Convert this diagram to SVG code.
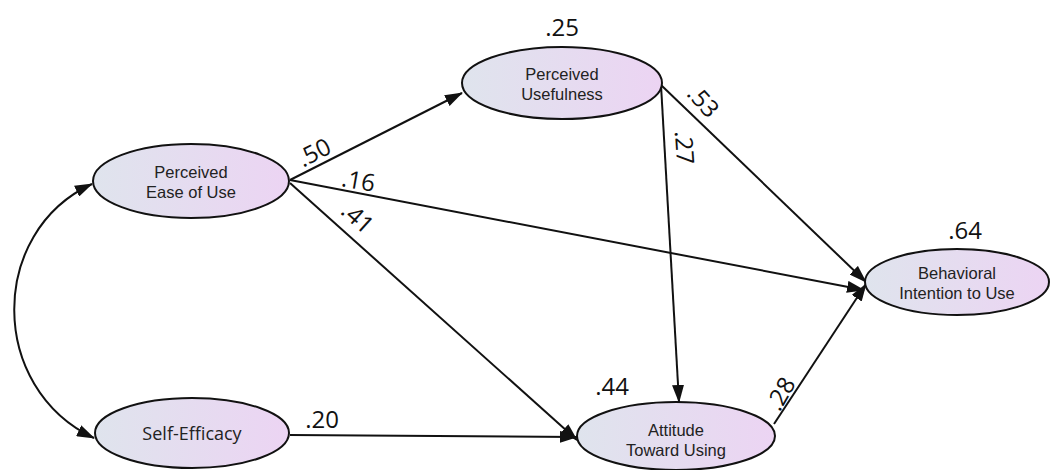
<svg xmlns="http://www.w3.org/2000/svg" width="1052" height="470" viewBox="0 0 1052 470">
<style>
.node ellipse{fill:url(#g);stroke:#111;stroke-width:2}
.lbl{font-family:"Liberation Sans",Arial,sans-serif;font-size:16.5px;fill:#222;text-anchor:middle}
.num{font-family:"Open Sans","DejaVu Sans",sans-serif;font-size:24px;fill:#111;text-anchor:middle}
.edge{stroke:#111;stroke-width:2;fill:none}
</style>
<defs>
<linearGradient id="g" x1="0" y1="0" x2="1" y2="0">
<stop offset="0" stop-color="#dfe4ed"/>
<stop offset="1" stop-color="#ecd4f3"/>
</linearGradient>
<marker id="ah" markerWidth="18" markerHeight="12" refX="17" refY="6" orient="auto" markerUnits="userSpaceOnUse">
<path d="M0,0 L18,6 L0,12 Z" fill="#111"/>
</marker>
<marker id="as" markerWidth="18" markerHeight="12" refX="1" refY="6" orient="auto" markerUnits="userSpaceOnUse">
<path d="M18,0 L0,6 L18,12 Z" fill="#111"/>
</marker>
</defs>
<rect width="1052" height="470" fill="#fff"/>
<g id="connectors">
<path class="edge" d="M92,184 C-12,232 -12,388 94,438" marker-start="url(#as)" marker-end="url(#ah)"/>
<line class="edge" x1="290" y1="180" x2="462" y2="93" marker-end="url(#ah)"/>
<line class="edge" x1="290" y1="180" x2="864" y2="290" marker-end="url(#ah)"/>
<line class="edge" x1="290" y1="183" x2="577" y2="440" marker-end="url(#ah)"/>
<line class="edge" x1="290" y1="435" x2="577" y2="437" marker-end="url(#ah)"/>
<line class="edge" x1="661" y1="85" x2="679" y2="402" marker-end="url(#ah)"/>
<line class="edge" x1="661" y1="85" x2="866" y2="282" marker-end="url(#ah)"/>
<line class="edge" x1="774" y1="424" x2="866" y2="284" marker-end="url(#ah)"/>
<text class="num" transform="translate(318,160) rotate(-27)">.50</text>
<text class="num" transform="translate(357,189) rotate(10)">.16</text>
<text class="num" transform="translate(352,224) rotate(42)">.41</text>
<text class="num" transform="translate(697,107) rotate(48)">.53</text>
<text class="num" transform="translate(676,148) rotate(86)">.27</text>
<text class="num" transform="translate(788,398) rotate(-60)">.28</text>
<text class="num" x="322" y="428">.20</text>
</g>
<g id="pu" class="node">
<ellipse cx="562" cy="83" rx="100" ry="36"/>
<text class="lbl" x="562" y="80">Perceived</text>
<text class="lbl" x="562" y="100">Usefulness</text>
<text class="num" x="562" y="36">.25</text>
</g>
<g id="peou" class="node">
<ellipse cx="191" cy="181" rx="98" ry="37"/>
<text class="lbl" x="191" y="178">Perceived</text>
<text class="lbl" x="191" y="198">Ease of Use</text>
</g>
<g id="bi" class="node">
<ellipse cx="957" cy="282" rx="92" ry="33"/>
<text class="lbl" x="957" y="279">Behavioral</text>
<text class="lbl" x="957" y="299">Intention to Use</text>
<text class="num" x="965" y="239">.64</text>
</g>
<g id="atu" class="node">
<ellipse cx="676" cy="436" rx="99" ry="34"/>
<text class="lbl" x="676" y="436">Attitude</text>
<text class="lbl" x="676" y="456">Toward Using</text>
<text class="num" x="612" y="395">.44</text>
</g>
<g id="se" class="node">
<ellipse cx="192" cy="433" rx="97" ry="35"/>
<text class="lbl" x="192" y="440" style="font-family:'Open Sans','DejaVu Sans',sans-serif;font-size:18px">Self-Efficacy</text>
</g>
</svg>
